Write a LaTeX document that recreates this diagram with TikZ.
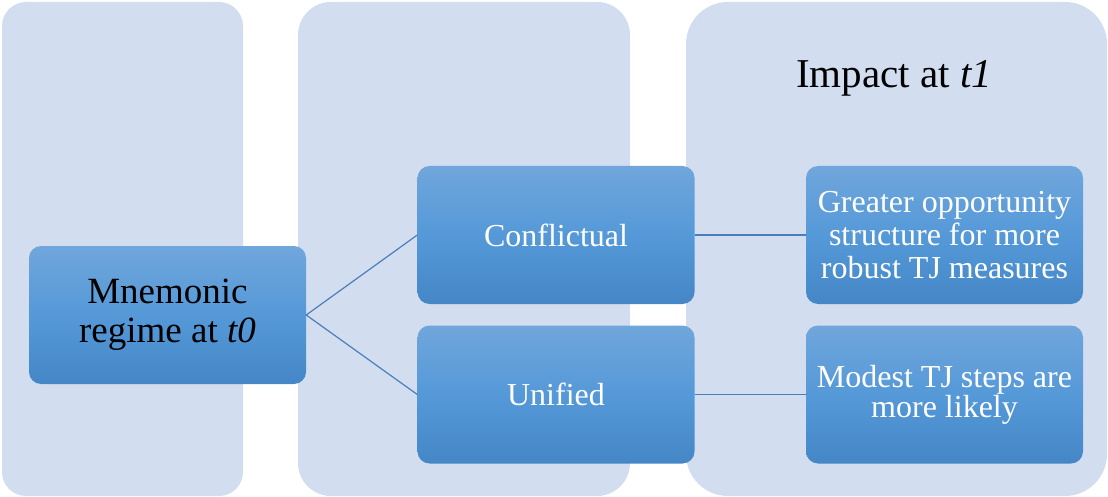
\documentclass[tikz,border=0pt]{standalone}
\usepackage{fontspec}
\setmainfont{Liberation Serif}
\definecolor{colbg}{HTML}{D2DEEF}
\definecolor{boxtop}{HTML}{70A6DB}
\definecolor{boxmid}{HTML}{5599D8}
\definecolor{boxbot}{HTML}{4587C6}
\definecolor{linkc}{HTML}{4A7EBB}
\begin{document}
\begin{tikzpicture}[x=1pt,y=-1pt,
  column/.style={fill=colbg},
  box/.style={rounded corners=12pt, top color=boxtop, bottom color=boxbot, middle color=boxmid,
    minimum width=277pt, minimum height=138pt, inner sep=0pt, align=center, text=white,
    font=\fontsize{32}{33}\selectfont},
  linkline/.style={draw=linkc, line width=1.2pt}]
\useasboundingbox (0,0) rectangle (1108,497);
% background columns
\fill[column, rounded corners=24pt] (2,2) rectangle (243,496);
\fill[column, rounded corners=33pt] (298,2) rectangle (630,496);
\fill[column, rounded corners=42pt] (686,2) rectangle (1107,496);
% heading
\node[anchor=base, font=\fontsize{41}{45}\selectfont, inner sep=0pt] (head) at (894,88) {Impact at \textit{t1}};
% boxes
\node[box, text=black, font=\fontsize{37}{39}\selectfont] (mn) at (167.5,315) {Mnemonic\\regime at \textit{t0}};
\node[box] (con) at (556,235) {Conflictual};
\node[box] (uni) at (556,394.5) {Unified};
\node[box] (gre) at (944.5,235) {Greater opportunity\\structure for more\\robust TJ measures};
\node[box, font=\fontsize{32}{30}\selectfont] (mod) at (944.5,394.5) {Modest TJ steps are\\more likely};
% connectors
\draw[linkline] (mn.east) -- (con.west);
\draw[linkline] (mn.east) -- (uni.west);
\draw[linkline] (con.east) -- (gre.west);
\draw[linkline] (uni.east) -- (mod.west);
\end{tikzpicture}
\end{document}
